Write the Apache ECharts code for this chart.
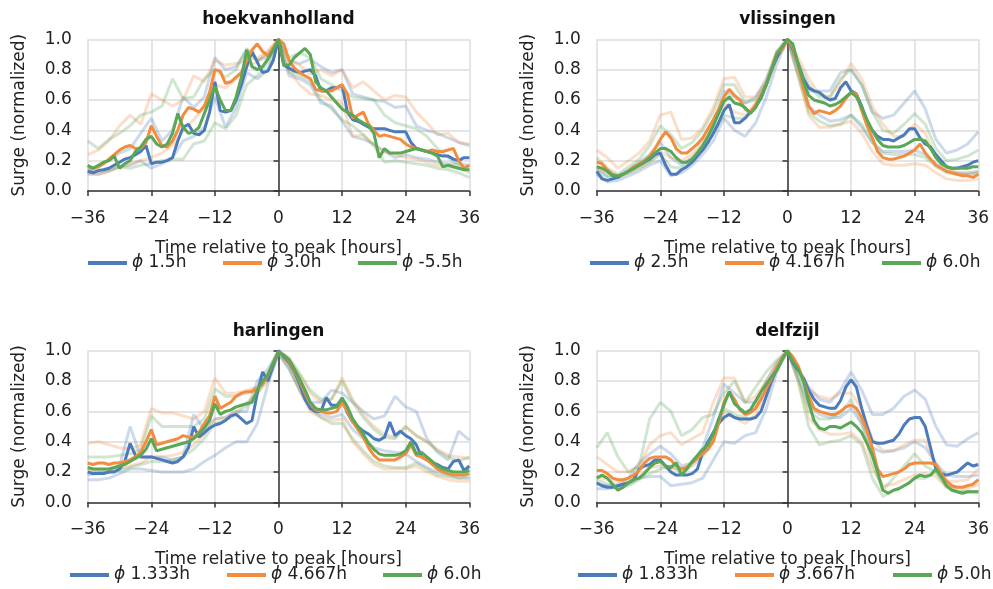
<!DOCTYPE html>
<html><head><meta charset="utf-8">
<script src="https://cdn.jsdelivr.net/npm/echarts@6/dist/echarts.min.js"></script>
<style>html,body{margin:0;padding:0;background:#fff}#c{width:993px;height:589px}</style>
</head><body><div id="c"></div>
<script>
// ---------- data ----------
const stations = ['hoekvanholland', 'vlissingen', 'harlingen', 'delfzijl'];
const legendLabels = [
  ['1.5h', '3.0h', '-5.5h'],
  ['2.5h', '4.167h', '6.0h'],
  ['1.333h', '4.667h', '6.0h'],
  ['1.833h', '3.667h', '5.0h']
];
const xTicks = [-36, -24, -12, 0, 12, 24, 36];
const yTicks = [0.0, 0.2, 0.4, 0.6, 0.8, 1.0];
const hoursFine = Array.from({length: 73}, (_, i) => i - 36);
const hoursCoarse = Array.from({length: 37}, (_, i) => 2 * i - 36);

// hoekvanholland (hourly)
const hoek_blue = [0.13,0.12,0.135,0.14,0.15,0.17,0.19,0.21,0.22,0.24,0.26,0.30,0.18,0.19,0.19,0.20,0.22,0.33,0.42,0.44,0.38,0.37,0.40,0.52,0.72,0.53,0.52,0.53,0.60,0.70,0.82,0.92,0.85,0.78,0.79,0.86,1.0,
  0.83,0.81,0.79,0.78,0.79,0.80,0.76,0.66,0.66,0.68,0.68,0.70,0.52,0.47,0.46,0.44,0.42,0.41,0.41,0.41,0.40,0.39,0.39,0.39,0.32,0.28,0.27,0.26,0.25,0.24,0.23,0.23,0.21,0.20,0.22,0.22];
const hoek_orange = [0.16,0.15,0.16,0.18,0.21,0.24,0.27,0.29,0.30,0.28,0.28,0.32,0.43,0.36,0.30,0.29,0.33,0.40,0.50,0.55,0.54,0.52,0.56,0.65,0.80,0.79,0.71,0.72,0.75,0.78,0.86,0.93,0.97,0.92,0.89,0.94,1.0,
  0.97,0.86,0.81,0.78,0.76,0.74,0.67,0.66,0.66,0.66,0.68,0.70,0.64,0.48,0.50,0.52,0.44,0.40,0.36,0.37,0.36,0.35,0.34,0.31,0.29,0.28,0.27,0.26,0.27,0.26,0.26,0.27,0.28,0.20,0.15,0.17];
const hoek_green = [0.17,0.15,0.17,0.19,0.20,0.23,0.15,0.18,0.20,0.26,0.29,0.34,0.36,0.31,0.29,0.31,0.38,0.51,0.42,0.38,0.39,0.42,0.51,0.60,0.69,0.60,0.53,0.53,0.62,0.75,0.93,0.82,0.80,0.82,0.87,0.93,1.0,
  0.83,0.83,0.88,0.91,0.94,0.90,0.72,0.68,0.66,0.62,0.58,0.54,0.52,0.50,0.47,0.45,0.43,0.38,0.22,0.28,0.25,0.25,0.25,0.26,0.27,0.28,0.27,0.26,0.25,0.23,0.16,0.17,0.16,0.15,0.14,0.14];
// hoekvanholland faded (every 2 hours)
const hoek_blue_hi = [0.13,0.16,0.20,0.25,0.28,0.38,0.48,0.33,0.40,0.62,0.55,0.62,0.88,0.80,0.82,0.93,0.86,0.90,1.0,0.86,0.84,0.87,0.82,0.78,0.80,0.64,0.62,0.60,0.59,0.55,0.56,0.43,0.40,0.38,0.35,0.32,0.30];
const hoek_blue_lo = [0.11,0.11,0.13,0.16,0.17,0.20,0.15,0.18,0.22,0.33,0.36,0.42,0.62,0.42,0.55,0.78,0.74,0.80,1.0,0.76,0.74,0.70,0.58,0.56,0.46,0.36,0.34,0.31,0.26,0.22,0.24,0.22,0.21,0.19,0.18,0.18,0.17];
const hoek_orange_hi = [0.24,0.27,0.33,0.43,0.50,0.44,0.64,0.60,0.56,0.60,0.76,0.72,0.86,0.83,0.84,0.86,0.88,0.92,1.0,0.86,0.83,0.77,0.80,0.76,0.80,0.68,0.72,0.66,0.60,0.63,0.62,0.52,0.45,0.37,0.38,0.32,0.31];
const hoek_orange_lo = [0.12,0.11,0.13,0.16,0.18,0.20,0.22,0.25,0.30,0.40,0.47,0.55,0.70,0.68,0.74,0.82,0.85,0.92,1.0,0.80,0.70,0.64,0.63,0.60,0.58,0.36,0.37,0.30,0.26,0.24,0.22,0.21,0.19,0.17,0.16,0.15,0.15];
const hoek_green_hi = [0.33,0.28,0.34,0.38,0.43,0.50,0.52,0.56,0.74,0.61,0.62,0.74,0.80,0.75,0.80,0.94,0.86,0.88,1.0,0.88,0.91,0.88,0.74,0.70,0.66,0.62,0.61,0.60,0.50,0.45,0.43,0.41,0.36,0.28,0.22,0.17,0.12];
const hoek_green_lo = [0.14,0.13,0.14,0.16,0.15,0.17,0.18,0.20,0.21,0.21,0.31,0.33,0.45,0.41,0.50,0.70,0.76,0.85,1.0,0.78,0.76,0.72,0.60,0.54,0.47,0.43,0.37,0.30,0.19,0.20,0.19,0.18,0.17,0.15,0.14,0.12,0.09];

// vlissingen
const vlis_blue = [0.13,0.08,0.07,0.08,0.09,0.11,0.13,0.15,0.17,0.19,0.21,0.24,0.25,0.17,0.11,0.11,0.14,0.16,0.19,0.23,0.27,0.32,0.38,0.45,0.53,0.57,0.45,0.45,0.48,0.52,0.56,0.61,0.70,0.80,0.88,0.94,1.0,
  0.94,0.84,0.74,0.68,0.66,0.65,0.62,0.60,0.61,0.68,0.72,0.66,0.64,0.56,0.46,0.40,0.36,0.34,0.34,0.33,0.35,0.37,0.41,0.41,0.35,0.31,0.29,0.24,0.20,0.16,0.15,0.15,0.16,0.17,0.19,0.20];
const vlis_orange = [0.19,0.18,0.14,0.11,0.10,0.11,0.13,0.16,0.18,0.20,0.23,0.28,0.34,0.39,0.35,0.28,0.25,0.25,0.28,0.31,0.35,0.41,0.47,0.54,0.62,0.67,0.63,0.60,0.54,0.52,0.57,0.63,0.71,0.80,0.91,0.93,1.0,
  0.95,0.83,0.68,0.56,0.51,0.53,0.52,0.51,0.53,0.56,0.61,0.65,0.64,0.53,0.43,0.35,0.26,0.22,0.21,0.21,0.22,0.23,0.25,0.27,0.31,0.25,0.21,0.17,0.15,0.13,0.12,0.11,0.10,0.10,0.09,0.11];
const vlis_green = [0.16,0.15,0.13,0.10,0.10,0.11,0.13,0.15,0.17,0.19,0.22,0.25,0.28,0.28,0.26,0.22,0.19,0.19,0.21,0.25,0.30,0.36,0.43,0.51,0.59,0.62,0.58,0.57,0.55,0.51,0.55,0.62,0.70,0.80,0.90,0.95,1.0,
  0.97,0.84,0.72,0.63,0.60,0.59,0.58,0.56,0.57,0.59,0.62,0.65,0.62,0.55,0.47,0.40,0.34,0.30,0.29,0.29,0.29,0.30,0.32,0.34,0.34,0.33,0.28,0.22,0.18,0.16,0.15,0.15,0.15,0.15,0.16,0.16];
const vlis_blue_hi = [0.15,0.10,0.10,0.14,0.19,0.24,0.32,0.22,0.17,0.22,0.30,0.42,0.66,0.62,0.58,0.62,0.74,0.92,1.0,0.82,0.66,0.66,0.66,0.78,0.80,0.70,0.52,0.48,0.50,0.58,0.66,0.54,0.34,0.25,0.27,0.31,0.39];
const vlis_blue_lo = [0.11,0.06,0.07,0.10,0.13,0.17,0.20,0.10,0.12,0.17,0.24,0.33,0.48,0.40,0.36,0.45,0.62,0.84,1.0,0.78,0.56,0.50,0.46,0.47,0.50,0.42,0.32,0.26,0.26,0.26,0.27,0.24,0.18,0.13,0.12,0.12,0.13];
const vlis_orange_hi = [0.27,0.22,0.15,0.20,0.25,0.33,0.50,0.52,0.34,0.35,0.42,0.55,0.74,0.75,0.62,0.62,0.72,0.92,1.0,0.88,0.74,0.64,0.62,0.72,0.84,0.74,0.56,0.44,0.36,0.36,0.44,0.38,0.22,0.14,0.12,0.11,0.12];
const vlis_orange_lo = [0.14,0.12,0.10,0.12,0.15,0.19,0.26,0.22,0.20,0.24,0.32,0.45,0.58,0.52,0.50,0.58,0.70,0.88,1.0,0.76,0.50,0.42,0.42,0.44,0.46,0.38,0.26,0.18,0.17,0.17,0.18,0.17,0.12,0.08,0.07,0.07,0.08];
const vlis_green_hi = [0.22,0.15,0.11,0.16,0.21,0.30,0.43,0.37,0.28,0.32,0.40,0.52,0.70,0.70,0.58,0.60,0.72,0.92,1.0,0.85,0.70,0.62,0.62,0.74,0.80,0.70,0.52,0.40,0.38,0.44,0.51,0.44,0.28,0.20,0.21,0.23,0.27];
const vlis_green_lo = [0.13,0.09,0.09,0.12,0.15,0.19,0.24,0.16,0.15,0.20,0.27,0.38,0.50,0.48,0.48,0.56,0.70,0.88,1.0,0.76,0.52,0.46,0.43,0.44,0.50,0.44,0.32,0.25,0.24,0.24,0.24,0.22,0.16,0.12,0.11,0.11,0.12];

// harlingen
const harl_blue = [0.20,0.19,0.19,0.19,0.20,0.20,0.22,0.27,0.39,0.31,0.30,0.30,0.30,0.29,0.28,0.27,0.26,0.27,0.30,0.36,0.50,0.43,0.46,0.49,0.51,0.52,0.54,0.57,0.58,0.55,0.52,0.54,0.72,0.86,0.80,0.90,1.0,
  0.96,0.92,0.86,0.78,0.68,0.62,0.60,0.60,0.69,0.64,0.64,0.68,0.59,0.53,0.50,0.47,0.45,0.42,0.41,0.43,0.53,0.44,0.47,0.44,0.42,0.38,0.30,0.28,0.26,0.25,0.23,0.22,0.27,0.28,0.21,0.24];
const harl_orange = [0.26,0.25,0.26,0.26,0.25,0.26,0.26,0.27,0.28,0.30,0.33,0.40,0.48,0.38,0.39,0.40,0.41,0.42,0.44,0.43,0.43,0.46,0.52,0.57,0.70,0.62,0.64,0.66,0.70,0.72,0.73,0.73,0.75,0.78,0.84,0.92,0.99,
  0.97,0.93,0.87,0.80,0.72,0.65,0.61,0.60,0.59,0.59,0.60,0.66,0.60,0.53,0.48,0.43,0.36,0.31,0.28,0.28,0.28,0.28,0.30,0.32,0.38,0.31,0.30,0.28,0.25,0.22,0.20,0.19,0.18,0.18,0.18,0.19];
const harl_green = [0.23,0.22,0.22,0.22,0.22,0.23,0.24,0.25,0.27,0.29,0.31,0.35,0.42,0.34,0.35,0.36,0.37,0.38,0.39,0.40,0.42,0.45,0.49,0.54,0.65,0.58,0.60,0.61,0.63,0.64,0.65,0.66,0.74,0.80,0.84,0.92,0.99,
  0.97,0.94,0.88,0.81,0.74,0.66,0.62,0.61,0.61,0.62,0.63,0.69,0.63,0.55,0.50,0.45,0.39,0.35,0.32,0.31,0.31,0.31,0.32,0.34,0.40,0.32,0.33,0.30,0.27,0.24,0.22,0.21,0.20,0.20,0.20,0.21];
const harl_blue_hi = [0.18,0.19,0.20,0.24,0.50,0.30,0.30,0.30,0.28,0.30,0.58,0.48,0.55,0.56,0.60,0.60,0.80,0.88,1.0,0.93,0.82,0.66,0.66,0.74,0.72,0.66,0.60,0.55,0.57,0.70,0.63,0.60,0.42,0.33,0.28,0.47,0.41];
const harl_blue_lo = [0.15,0.15,0.16,0.19,0.22,0.22,0.21,0.20,0.20,0.20,0.22,0.27,0.31,0.36,0.40,0.40,0.52,0.78,0.98,0.88,0.74,0.62,0.58,0.56,0.58,0.48,0.42,0.36,0.34,0.33,0.32,0.27,0.23,0.20,0.18,0.16,0.16];
const harl_orange_hi = [0.39,0.40,0.38,0.36,0.35,0.38,0.62,0.59,0.59,0.57,0.55,0.60,0.82,0.72,0.72,0.74,0.76,0.84,1.0,0.95,0.84,0.72,0.66,0.68,0.82,0.68,0.58,0.50,0.45,0.43,0.50,0.44,0.40,0.35,0.31,0.30,0.29];
const harl_orange_lo = [0.22,0.21,0.21,0.22,0.24,0.26,0.30,0.30,0.31,0.33,0.38,0.45,0.55,0.56,0.60,0.66,0.72,0.80,0.98,0.90,0.74,0.60,0.56,0.54,0.55,0.40,0.32,0.25,0.22,0.22,0.22,0.24,0.20,0.17,0.15,0.14,0.14];
const harl_green_hi = [0.30,0.30,0.30,0.31,0.32,0.35,0.57,0.50,0.50,0.50,0.50,0.55,0.75,0.70,0.70,0.72,0.76,0.85,1.0,0.95,0.85,0.74,0.68,0.68,0.80,0.66,0.56,0.48,0.43,0.42,0.50,0.44,0.40,0.34,0.30,0.27,0.30];
const harl_green_lo = [0.20,0.20,0.20,0.21,0.23,0.25,0.27,0.27,0.28,0.30,0.35,0.42,0.52,0.54,0.58,0.64,0.72,0.82,0.98,0.88,0.74,0.62,0.56,0.52,0.52,0.42,0.34,0.27,0.24,0.23,0.23,0.26,0.22,0.18,0.17,0.16,0.17];

// delfzijl
const delf_blue = [0.13,0.11,0.10,0.10,0.11,0.12,0.13,0.15,0.22,0.24,0.25,0.28,0.28,0.24,0.20,0.18,0.18,0.18,0.19,0.22,0.33,0.40,0.46,0.52,0.56,0.58,0.56,0.55,0.55,0.55,0.56,0.60,0.70,0.80,0.88,0.95,1.0,
  0.92,0.87,0.82,0.74,0.68,0.64,0.63,0.62,0.62,0.67,0.76,0.81,0.76,0.62,0.50,0.40,0.39,0.39,0.40,0.41,0.45,0.51,0.55,0.56,0.56,0.50,0.36,0.22,0.19,0.18,0.19,0.20,0.23,0.26,0.24,0.25];
const delf_orange = [0.21,0.21,0.19,0.16,0.15,0.15,0.16,0.18,0.21,0.26,0.29,0.30,0.30,0.30,0.28,0.24,0.22,0.23,0.26,0.29,0.32,0.35,0.40,0.52,0.66,0.73,0.68,0.61,0.58,0.59,0.62,0.68,0.75,0.82,0.89,0.95,1.0,
  0.96,0.90,0.80,0.70,0.62,0.60,0.59,0.58,0.58,0.60,0.63,0.64,0.62,0.56,0.47,0.36,0.22,0.17,0.18,0.19,0.20,0.22,0.25,0.26,0.26,0.26,0.26,0.25,0.19,0.14,0.11,0.10,0.10,0.11,0.12,0.15];
const delf_green = [0.16,0.18,0.16,0.12,0.08,0.10,0.13,0.15,0.16,0.19,0.23,0.26,0.27,0.24,0.23,0.26,0.18,0.22,0.27,0.31,0.35,0.38,0.45,0.55,0.64,0.73,0.65,0.62,0.59,0.61,0.67,0.73,0.78,0.83,0.87,0.94,1.0,
  0.93,0.88,0.80,0.66,0.54,0.49,0.48,0.50,0.50,0.49,0.51,0.53,0.50,0.46,0.39,0.31,0.20,0.08,0.06,0.08,0.09,0.11,0.13,0.16,0.18,0.17,0.18,0.22,0.17,0.11,0.08,0.07,0.06,0.07,0.07,0.07];
const delf_blue_hi = [0.12,0.11,0.12,0.16,0.26,0.32,0.37,0.32,0.24,0.26,0.36,0.56,0.78,0.72,0.66,0.66,0.80,0.92,1.0,0.88,0.76,0.68,0.66,0.74,0.86,0.74,0.58,0.58,0.62,0.70,0.74,0.68,0.50,0.38,0.37,0.42,0.46];
const delf_blue_lo = [0.09,0.09,0.10,0.12,0.16,0.17,0.17,0.11,0.12,0.13,0.16,0.28,0.40,0.39,0.44,0.46,0.62,0.86,1.0,0.82,0.64,0.58,0.56,0.56,0.62,0.52,0.36,0.33,0.34,0.36,0.40,0.36,0.26,0.18,0.17,0.17,0.18];
const delf_orange_hi = [0.30,0.25,0.20,0.20,0.24,0.38,0.44,0.46,0.38,0.42,0.46,0.66,0.82,0.82,0.66,0.70,0.80,0.92,1.0,0.90,0.74,0.70,0.68,0.72,0.72,0.62,0.42,0.34,0.34,0.38,0.41,0.41,0.24,0.14,0.14,0.15,0.22];
const delf_orange_lo = [0.17,0.15,0.14,0.14,0.17,0.23,0.24,0.22,0.22,0.26,0.32,0.46,0.60,0.56,0.52,0.58,0.72,0.88,1.0,0.80,0.56,0.48,0.45,0.45,0.46,0.40,0.22,0.11,0.12,0.15,0.18,0.19,0.17,0.10,0.09,0.09,0.12];
const delf_green_hi = [0.36,0.46,0.30,0.20,0.24,0.55,0.66,0.60,0.44,0.48,0.56,0.58,0.72,0.80,0.66,0.76,0.86,0.94,1.0,0.84,0.60,0.55,0.55,0.58,0.68,0.52,0.26,0.08,0.16,0.24,0.32,0.24,0.20,0.10,0.07,0.07,0.07];
const delf_green_lo = [0.15,0.12,0.09,0.11,0.15,0.19,0.22,0.24,0.20,0.24,0.30,0.44,0.62,0.58,0.56,0.64,0.76,0.90,1.0,0.80,0.50,0.38,0.40,0.41,0.44,0.38,0.16,0.04,0.08,0.11,0.16,0.16,0.20,0.12,0.07,0.07,0.07];

// ---------- build ----------
const bold = [
  [hoek_blue, hoek_orange, hoek_green],
  [vlis_blue, vlis_orange, vlis_green],
  [harl_blue, harl_orange, harl_green],
  [delf_blue, delf_orange, delf_green]
];
const faded = [
  [[hoek_blue_hi, hoek_blue_lo], [hoek_orange_hi, hoek_orange_lo], [hoek_green_hi, hoek_green_lo]],
  [[vlis_blue_hi, vlis_blue_lo], [vlis_orange_hi, vlis_orange_lo], [vlis_green_hi, vlis_green_lo]],
  [[harl_blue_hi, harl_blue_lo], [harl_orange_hi, harl_orange_lo], [harl_green_hi, harl_green_lo]],
  [[delf_blue_hi, delf_blue_lo], [delf_orange_hi, delf_orange_lo], [delf_green_hi, delf_green_lo]]
];
bold.forEach((p, i) => p.forEach((a, j) => { if (a.length !== 73) throw new Error('bold ' + i + ' ' + j + ' len ' + a.length); }));
faded.forEach((p, i) => p.forEach((c, j) => c.forEach((a, k) => { if (a.length !== 37) throw new Error('faded ' + i + ' ' + j + ' ' + k + ' len ' + a.length); })));

const colors = ['#4c7bbb', '#f28c3f', '#5aa755'];
const FONT = 'DejaVu Sans';
const FS = 17;
const TXT = '#222222';
const panels = [
  {left: 87.7, top: 39.3, legendLeft: [88, 223, 358], legendMid: 263},
  {left: 596.7, top: 39.3, legendLeft: [590, 725, 882], legendMid: 263},
  {left: 87.7, top: 350.7, legendLeft: [70, 227, 383], legendMid: 575},
  {left: 596.7, top: 350.7, legendLeft: [578, 735, 893], legendMid: 575}
];
const W = 381.6, H = 151.7;

const grid = [], xAxis = [], yAxis = [], series = [], legend = [], title = [];
panels.forEach((p, i) => {
  grid.push({left: p.left, top: p.top, width: W, height: H, containLabel: false});
  xAxis.push({
    type: 'value', gridIndex: i, min: -36, max: 36, interval: 12, offset: 9,
    name: 'Time relative to peak [hours]', nameLocation: 'middle', nameGap: 40,
    nameTextStyle: {fontFamily: FONT, fontSize: FS, color: TXT},
    axisLine: {show: true, lineStyle: {color: '#333', width: 1.5}},
    axisTick: {show: true, length: 5, lineStyle: {color: '#333', width: 1.5}},
    axisLabel: {fontFamily: FONT, fontSize: FS, color: TXT, margin: 10,
      formatter: v => xTicks.includes(v) ? (v < 0 ? '\u2212' + Math.abs(v) : String(v)) : ''},
    splitLine: {show: true, lineStyle: {color: '#dddddd', width: 1.5}}
  });
  yAxis.push({
    type: 'value', gridIndex: i, min: 0, max: 1, interval: 0.2, offset: 8,
    name: 'Surge (normalized)', nameLocation: 'middle', nameGap: 52, nameRotate: 90,
    nameTextStyle: {fontFamily: FONT, fontSize: FS, color: TXT},
    axisLine: {show: true, lineStyle: {color: '#333', width: 1.5}},
    axisTick: {show: true, length: 5, lineStyle: {color: '#333', width: 1.5}},
    axisLabel: {fontFamily: FONT, fontSize: FS, color: TXT, margin: 8,
      formatter: v => yTicks.some(t => Math.abs(t - v) < 1e-6) ? v.toFixed(1) : ''},
    splitLine: {show: true, lineStyle: {color: '#dddddd', width: 1.5}}
  });
  title.push({
    text: stations[i], left: p.left + W / 2, top: p.top - 28, textAlign: 'center', padding: 0,
    textStyle: {fontFamily: FONT, fontSize: FS, fontWeight: 'bold', color: '#111'}
  });
  faded[i].forEach((pair, j) => pair.forEach((arr, k) => {
    series.push({
      type: 'line', xAxisIndex: i, yAxisIndex: i, name: 'faded-' + i + '-' + j + '-' + k,
      data: hoursCoarse.map((h, n) => [h, arr[n]]), showSymbol: false, silent: true,
      lineStyle: {color: colors[j], width: 3, opacity: 0.28}, itemStyle: {color: colors[j]}, z: 1
    });
  }));
  bold[i].forEach((arr, j) => {
    const nm = 'p' + i + '-' + j;
    series.push({
      type: 'line', xAxisIndex: i, yAxisIndex: i, name: nm,
      data: hoursFine.map((h, n) => [h, arr[n]]), showSymbol: false,
      lineStyle: {color: colors[j], width: 3}, itemStyle: {color: colors[j]}, z: 3
    });
    legend.push({
      data: [nm], left: p.legendLeft[j], top: p.legendMid - 8.5, padding: 0,
      icon: 'rect', itemWidth: 39, itemHeight: 4, itemGap: 0, selectedMode: false,
      formatter: () => '{i|\u03d5} ' + legendLabels[i][j],
      textStyle: {fontFamily: FONT, fontSize: FS, color: TXT,
        rich: {i: {fontFamily: FONT, fontSize: FS, fontStyle: 'italic', color: TXT}}}
    });
  });
});

const chart = echarts.init(document.getElementById('c'), null, {renderer: 'canvas'});
chart.setOption({animation: false, backgroundColor: '#ffffff', grid, xAxis, yAxis, series, legend, title});
</script></body></html>
